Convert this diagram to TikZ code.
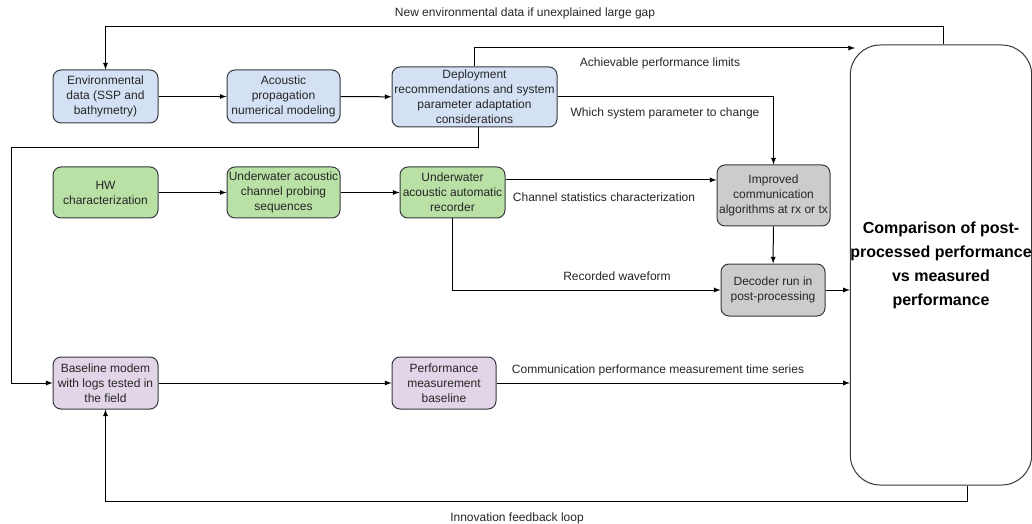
\documentclass[tikz,border=0pt]{standalone}
\usepackage{fontspec}
\setmainfont{Liberation Sans}
\usepackage{xcolor}
\usetikzlibrary{arrows,shapes,positioning}
\definecolor{envblue}{HTML}{D4E1F5}
\definecolor{fieldgreen}{HTML}{B9E0A5}
\definecolor{procgray}{HTML}{CCCCCC}
\definecolor{testpurple}{HTML}{E1D5E7}
\definecolor{edgegray}{HTML}{36393D}

\begin{document}
\begin{tikzpicture}[x=0.75pt,y=-0.75pt,>=latex,
  stage/.style={draw=edgegray, line width=0.75pt, rectangle, rounded corners=6pt, inner sep=0pt, align=center, text=black!85, font=\fontsize{9}{11.25}\selectfont},
  flow/.style={->, line width=0.75pt},
  lbl/.style={text=black!85, font=\fontsize{9}{11}\selectfont}]

\useasboundingbox (0,0) rectangle (1032,524);

% Modeling row
\node[stage, fill=envblue, minimum width=78.75pt, minimum height=39.75pt] (env) at (105.5,96.5) {Environmental\\data (SSP and\\bathymetry)};
\node[stage, fill=envblue, minimum width=84.75pt, minimum height=39.75pt] (acoustic) at (283.5,96.5) {Acoustic\\propagation\\numerical modeling};
\node[stage, fill=envblue, minimum width=123.75pt, minimum height=45pt] (deploy) at (474.5,97) {Deployment\\recommendations and system\\parameter adaptation\\considerations};

% Sea trial row
\node[stage, fill=fieldgreen, minimum width=78.75pt, minimum height=38.25pt] (hw) at (105.5,192.5) {HW\\characterization};
\node[stage, fill=fieldgreen, minimum width=84.75pt, minimum height=38.25pt] (probing) at (283.5,192.5) {Underwater acoustic\\channel probing\\sequences};
\node[stage, fill=fieldgreen, minimum width=78.75pt, minimum height=38.25pt] (recorder) at (452.5,192.5) {Underwater\\acoustic automatic\\recorder};

% Post-processing
\node[stage, fill=procgray, minimum width=84.75pt, minimum height=45.75pt] (improved) at (773.5,195.5) {Improved\\communication\\algorithms at rx or tx};
\node[stage, fill=procgray, minimum width=78pt, minimum height=39pt] (decoder) at (773,290) {Decoder run in\\post-processing};

% Baseline row
\node[stage, fill=testpurple, minimum width=78.75pt, minimum height=39pt] (baseline) at (105.5,383) {Baseline modem\\with logs tested in\\the field};
\node[stage, fill=testpurple, minimum width=78pt, minimum height=39pt] (perf) at (444,383) {Performance\\measurement\\baseline};

% Comparison box
\node[stage, rounded corners=22.5pt, fill=white, minimum width=135pt, minimum height=330pt, font=\fontsize{12}{18}\selectfont\bfseries, text=black] (compare) at (941,265) {Comparison of post-\\processed performance\\vs measured\\performance};

\coordinate (leftrail) at (11,148);
\coordinate (limits) at (855,48);

\draw[flow] (env) -- (acoustic);
\draw[flow] (acoustic) -- (deploy);
\draw[flow] (hw) -- (probing);
\draw[flow] (probing) -- (recorder);
\draw[flow] (baseline) -- (perf);

\draw[flow] (deploy.north) |- (limits);
\draw[flow] (deploy.east) -| (improved.north);
\draw[flow] ([xshift=3pt]deploy.south) |- (leftrail) |- (baseline.west);
\draw[flow] ([yshift=9.4pt]recorder.east) -- ([yshift=9.4pt]recorder.east -| improved.west);
\draw[flow] (improved) -- (decoder);
\draw[flow] (recorder.south) |- (decoder.west);
\draw[flow] (decoder.east) -- (decoder.east -| compare.west);
\draw[flow] (perf.east) -- (perf.east -| compare.west);

% Feedback loops
\draw[flow] ([xshift=1.5pt]compare.north) -- ++(0,-18) -| (env.north);
\draw[flow] ([xshift=19.5pt]compare.south) -- ++(0,16) -| (baseline.south);

\node[lbl] (newdata) at (525,13) {New environmental data if unexplained large gap};
\node[lbl] (achv) at (660,63) {Achievable performance limits};
\node[lbl] (whichparam) at (665,113) {Which system parameter to change};
\node[lbl] (chanstats) at (604,197) {Channel statistics characterization};
\node[lbl] (waveform) at (617,276) {Recorded waveform};
\node[lbl] (timeseries) at (658,370) {Communication performance measurement time series};
\node[lbl] (innovation) at (517,518) {Innovation feedback loop};
\end{tikzpicture}
\end{document}
